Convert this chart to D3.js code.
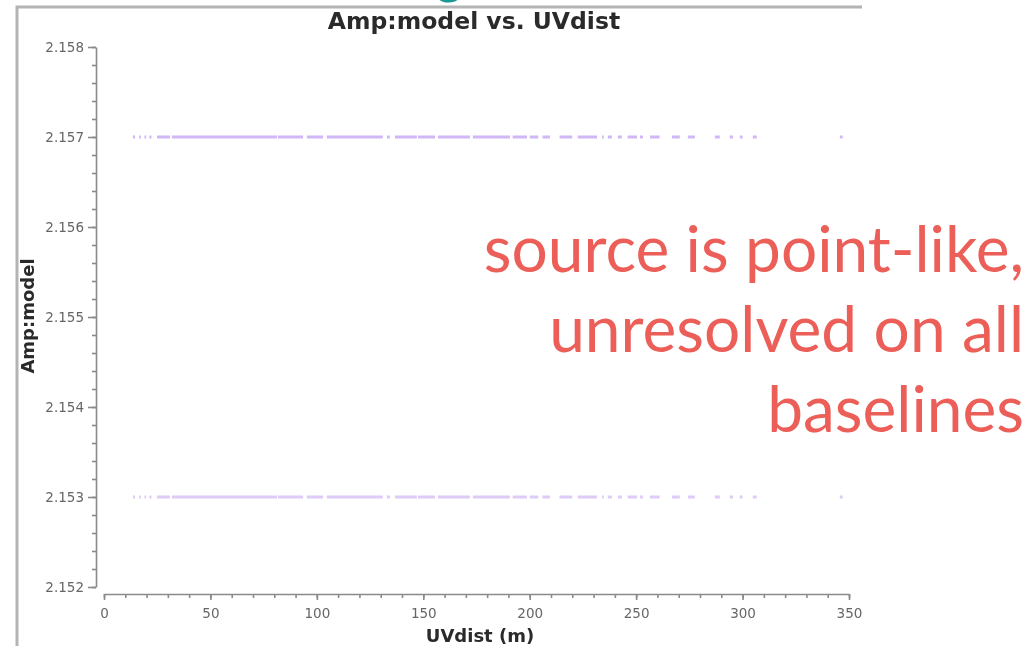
<!DOCTYPE html>
<html>
<head>
<meta charset="utf-8">
<script src="https://cdn.jsdelivr.net/npm/d3@7"></script>
<style>
  html, body { margin: 0; padding: 0; background: #fff; }
  #chart { width: 1036px; height: 646px; }
  .axis text { font-family: "DejaVu Sans", sans-serif; font-size: 13.5px; fill: #666; }
  .axis line, .axis path { stroke: #8a8a8a; stroke-width: 1.6; }
  .plot-title, .axis-label { font-family: "DejaVu Sans", sans-serif; font-weight: bold; fill: #2a2a2a; }
  .note { font-family: Lato, "Open Sans", sans-serif; fill: #ec5f59; }
</style>
</head>
<body>
<div id="chart"></div>
<script>
// amplitude levels seen in the plot (Jy)
const ampLevels = [2.157, 2.153];
// runs of UVdist (m) covered by visibilities
const uvRuns = [
  [13.6, 14.6], [16.5, 17.3], [19.0, 19.8], [21.3, 22.3],
  [24.9, 31.0], [31.9, 81.3], [81.7, 93.5], [95.3, 102.9],
  [104.7, 131.0], [132.9, 134.3], [136.7, 147.0], [147.5, 155.5],
  [156.9, 171.9], [173.3, 190.7], [192.0, 198.7], [200.0, 204.0],
  [206.0, 209.5], [214.0, 220.0], [222.6, 231.6], [234.0, 234.8],
  [236.7, 238.6], [241.4, 243.3], [246.0, 250.4], [251.8, 253.2],
  [256.5, 261.0], [266.8, 270.5], [274.3, 277.6], [287.0, 289.3],
  [294.0, 295.5], [298.7, 300.0], [304.8, 306.7], [345.7, 347.0],
];
const xTicks = [0, 50, 100, 150, 200, 250, 300, 350];
const yTicks = [2.152, 2.153, 2.154, 2.155, 2.156, 2.157, 2.158];
const noteLines = ["source is point-like,", "unresolved on all", "baselines"];

class UVPlot {
  constructor(el) {
    this.el = el;
    this.init();
  }

  init() {
    this.width = 1036;
    this.height = 646;

    this.x = d3.scaleLinear().domain([0, 350]).range([104, 849]);
    this.y = d3.scaleLinear().domain([2.152, 2.158]).range([587, 47]);

    this.svg = d3
      .select(this.el)
      .append("svg")
      .attr("width", this.width)
      .attr("height", this.height);

    const defs = this.svg.append("defs");
    defs
      .append("filter")
      .attr("id", "soft")
      .append("feGaussianBlur")
      .attr("stdDeviation", 0.75);

    this.gFrame = this.svg.append("g").attr("class", "frame");
    this.gPlot = this.svg.append("g").attr("filter", "url(#soft)");
    this.gNote = this.svg.append("g");

    this.render();
  }

  render() {
    this.renderFrame();
    this.renderAxes();
    this.renderPoints();
    this.renderLabels();
    this.renderNote();
  }

  renderFrame() {
    // slide framing: grey border and the tail of a heading glyph
    this.gFrame
      .append("path")
      .attr("d", "M17,646 V7 H862")
      .attr("fill", "none")
      .attr("stroke", "#b4b4b4")
      .attr("stroke-width", 3);
    this.gFrame
      .append("text")
      .attr("class", "note")
      .attr("x", 449)
      .attr("y", -7)
      .attr("text-anchor", "middle")
      .style("font-size", "52px")
      .style("fill", "#1b9896")
      .text("g");
  }

  renderAxes() {
    const minorY = d3.range(2.152, 2.15801, 0.0002);
    const minorX = d3.range(0, 351, 10);

    this.gPlot
      .append("g")
      .attr("class", "axis axis--left")
      .attr("transform", "translate(96,0)")
      .call(d3.axisLeft(this.y).tickValues(minorY).tickSize(4).tickFormat(""))
      .call((g) => g.select(".domain").remove());
    this.gPlot
      .append("g")
      .attr("class", "axis axis--left")
      .attr("transform", "translate(96,0)")
      .call(
        d3.axisLeft(this.y).tickValues(yTicks).tickSize(8).tickSizeOuter(0).tickPadding(4).tickFormat(d3.format(".3f"))
      );

    this.gPlot
      .append("g")
      .attr("class", "axis axis--bottom")
      .attr("transform", "translate(0,594)")
      .call(d3.axisBottom(this.x).tickValues(minorX).tickSize(4).tickFormat(""))
      .call((g) => g.select(".domain").remove());
    this.gPlot
      .append("g")
      .attr("class", "axis axis--bottom")
      .attr("transform", "translate(0,594)")
      .call(d3.axisBottom(this.x).tickValues(xTicks).tickSize(6).tickSizeOuter(0).tickPadding(8));
  }

  renderPoints() {
    this.gPlot
      .append("g")
      .attr("class", "points")
      .selectAll("g")
      .data(ampLevels)
      .join("g")
      .attr("fill", "#bf98f2")
      .attr("fill-opacity", (d, i) => (i === 0 ? 0.7 : 0.5))
      .selectAll("rect")
      .data((amp) => uvRuns.map((r) => ({ amp, r })))
      .join("rect")
      .attr("x", (d) => this.x(d.r[0]))
      .attr("width", (d) => Math.max(1.5, this.x(d.r[1]) - this.x(d.r[0])))
      .attr("y", (d) => this.y(d.amp) - 1.5)
      .attr("height", 3);
  }

  renderLabels() {
    this.gPlot
      .append("text")
      .attr("class", "plot-title")
      .attr("x", 474)
      .attr("y", 29)
      .attr("text-anchor", "middle")
      .style("font-size", "23.5px")
      .text("Amp:model vs. UVdist");

    this.gPlot
      .append("text")
      .attr("class", "axis-label")
      .attr("x", 480)
      .attr("y", 642)
      .attr("text-anchor", "middle")
      .style("font-size", "18px")
      .text("UVdist (m)");

    this.gPlot
      .append("text")
      .attr("class", "axis-label")
      .attr("transform", "translate(34,316) rotate(-90)")
      .attr("text-anchor", "middle")
      .style("font-size", "18px")
      .text("Amp:model");
  }

  renderNote() {
    this.gNote
      .selectAll("text")
      .data(noteLines)
      .join("text")
      .attr("class", "note")
      .attr("x", 1024)
      .attr("y", (d, i) => 272 + i * 80)
      .attr("text-anchor", "end")
      .style("font-size", "64px")
      .text((d) => d);
  }
}

new UVPlot(document.getElementById("chart"));
</script>
</body>
</html>
